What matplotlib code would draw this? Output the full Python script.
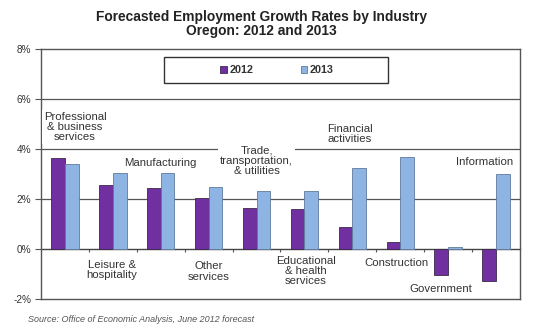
import numpy as np
import matplotlib.pyplot as plt
from matplotlib.patches import Rectangle

plt.rcParams.update({"font.family": ["Liberation Sans", "DejaVu Sans"]})

industries = ["Professional\n& business\nservices", "Leisure &\nhospitality", "Manufacturing",
              "Other\nservices", "Trade,\ntransportation,\n& utilities", "Educational\n& health\nservices",
              "Financial\nactivities", "Construction", "Government", "Information"]
growth_2012 = [3.64, 2.56, 2.44, 2.04, 1.64, 1.59, 0.88, 0.27, -1.05, -1.27]
growth_2013 = [3.40, 3.04, 3.04, 2.48, 2.32, 2.32, 3.23, 3.70, 0.09, 2.99]
y_ticks = [-2, 0, 2, 4, 6, 8]

# where each category name sits (group index, percent)
label_pos = [(0.21, 4.88), (0.98, -0.84), (2.0, 3.44), (3.0, -0.9), (4.0, 3.52),
             (5.03, -0.88), (5.95, 4.6), (6.91, -0.56), (7.85, -1.6), (8.75, 3.48)]

PURPLE, BLUE = "#7030A0", "#8DB4E2"

fig = plt.figure(figsize=(5.38, 3.34), dpi=100)
ax = fig.add_axes([41 / 538, 35 / 334, 479 / 538, 250 / 334])

x = np.arange(len(industries))
w = 0.286
ax.bar(x - w / 2, growth_2012, w, color=PURPLE, edgecolor="#3a2a4a", lw=0.6, label="2012", zorder=3)
ax.bar(x + w / 2, growth_2013, w, color=BLUE, edgecolor="#5f7a9a", lw=0.6, label="2013", zorder=3)

ax.set_xlim(-0.5, len(industries) - 0.5)
ax.set_ylim(-2, 8)
ax.set_yticks(y_ticks)
ax.set_yticklabels([f"{v}%" for v in y_ticks], fontsize=7.2, color="#333333")
ax.tick_params(axis="y", length=4, width=0.8, color="#555555", pad=3)
ax.set_xticks([])
for s in ax.spines.values():
    s.set_color("#555555"); s.set_linewidth(1.0)
for v in (2, 4, 6):
    ax.axhline(v, color="#555555", lw=0.9, zorder=1)

# zero line with small ticks between groups
zero = ax.secondary_xaxis(0.2)
zero.set_xticks(np.arange(len(industries) - 1) + 0.5)
zero.set_xticklabels([])
zero.tick_params(length=2.5, width=0.8, color="#555555", direction="out")
zero.spines["bottom"].set_color("#444444"); zero.spines["bottom"].set_linewidth(1.0)

for name, (lx, ly) in zip(industries, label_pos):
    ax.text(lx, ly, name, ha="center", va="center", fontsize=8.2, color="#333333",
            linespacing=1.05, zorder=4,
            bbox=dict(facecolor="white", edgecolor="none", pad=1.5))

# legend box spans wider than its entries
box = Rectangle((164 / 538, 1 - 83 / 334), 224 / 538, 26 / 334, transform=fig.transFigure,
                facecolor="white", edgecolor="#333333", lw=1.0, zorder=5)
fig.add_artist(box)
leg = fig.legend(*ax.get_legend_handles_labels(), loc="center", bbox_to_anchor=(277 / 538, 1 - 70 / 334),
                 ncol=2, frameon=False, handlelength=0.6, handleheight=0.6,
                 handletextpad=0.25, columnspacing=4.4, prop={"weight": "bold", "size": 7.8})
for t in leg.get_texts():
    t.set_color("#333333")
leg.set_zorder(6)

fig.text(261 / 538, 1 - 17 / 334, "Forecasted Employment Growth Rates by Industry", ha="center", va="center",
         fontsize=9.9, fontweight="bold", color="#222222")
fig.text(261 / 538, 1 - 31 / 334, "Oregon: 2012 and 2013", ha="center", va="center",
         fontsize=9.9, fontweight="bold", color="#222222")
fig.text(28 / 538, 1 - 320 / 334, "Source: Office of Economic Analysis, June 2012 forecast", ha="left",
         va="center", fontsize=6.5, style="italic", color="#555555")

fig.savefig("out.png", dpi=100)
